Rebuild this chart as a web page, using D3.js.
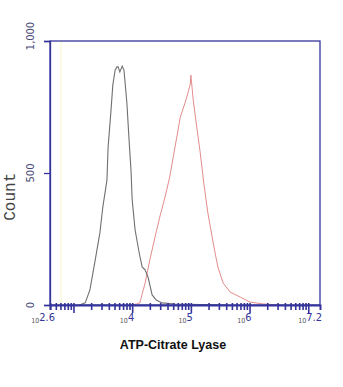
<!DOCTYPE html>
<html lang="en">
<head>
<meta charset="UTF-8">
<title>ATP-Citrate Lyase</title>
<script src="https://cdn.jsdelivr.net/npm/d3@7"></script>
<style>
  html, body { margin: 0; padding: 0; background: #fff; }
  svg { display: block; }
</style>
</head>
<body>
<script>
// y axis
const yTicks = [0, 500, 1000];
const yTickLabels = ["0", "500", "1,000"];

// x axis labels (log10 exponents)
const xLabelExps = [2.6, 4, 5, 6, 7.2];
const xLabelTexts = ["2.6", "4", "5", "6", "7.2"];

// gray histogram (control): log10 intensity, count
const grayLog = [3.10, 3.20, 3.28, 3.37, 3.45, 3.50, 3.57, 3.59, 3.64, 3.67, 3.71, 3.74, 3.76, 3.79, 3.83, 3.86, 3.88, 3.91, 3.95, 3.98, 4.00, 4.05, 4.12, 4.17, 4.22, 4.27, 4.34, 4.41, 4.51, 4.73, 5.60];
const grayCount = [0, 8, 57, 170, 273, 371, 473, 598, 739, 833, 890, 902, 902, 883, 905, 890, 841, 765, 614, 511, 398, 284, 197, 144, 133, 106, 38, 19, 8, 4, 0];

// red histogram (ATP-Citrate Lyase)
const redLog = [3.96, 4.08, 4.13, 4.22, 4.30, 4.39, 4.47, 4.56, 4.64, 4.70, 4.76, 4.82, 4.90, 4.95, 4.99, 5.00, 5.04, 5.10, 5.16, 5.22, 5.29, 5.38, 5.46, 5.55, 5.67, 5.84, 6.01, 6.23, 6.52];
const redCount = [0, 4, 8, 83, 170, 258, 333, 409, 485, 561, 636, 712, 765, 803, 837, 871, 777, 674, 576, 462, 348, 235, 144, 83, 49, 30, 11, 4, 0];

const W = 343, H = 387;
const margin = { top: 41, right: 23, bottom: 82, left: 50 };
const axisColor = "#34349a";

const svg = d3.select("body").append("svg")
  .attr("width", W).attr("height", H)
  .style("background", "#fff");

const x = d3.scaleLog()
  .domain([Math.pow(10, 2.6), Math.pow(10, 7.2)])
  .range([margin.left, W - margin.right]);

const y = d3.scaleLinear()
  .domain([0, 1000])
  .range([H - margin.bottom, margin.top]);

// faint yellow gate line
svg.append("line")
  .attr("x1", 61).attr("x2", 61)
  .attr("y1", y(1000)).attr("y2", y(0))
  .attr("stroke", "#fbf6c8").attr("stroke-width", 1);

// histograms
const line = d3.line()
  .x(d => x(Math.pow(10, d[0])))
  .y(d => y(d[1]));

svg.append("path")
  .datum(redLog.map((e, i) => [e, redCount[i]]))
  .attr("d", line)
  .attr("fill", "none")
  .attr("stroke", "#e58c8c")
  .attr("stroke-width", 1);

svg.append("path")
  .datum(grayLog.map((e, i) => [e, grayCount[i]]))
  .attr("d", line)
  .attr("fill", "none")
  .attr("stroke", "#707070")
  .attr("stroke-width", 1.1);

// frame
svg.append("rect")
  .attr("x", margin.left).attr("y", margin.top)
  .attr("width", W - margin.left - margin.right)
  .attr("height", H - margin.top - margin.bottom)
  .attr("fill", "none")
  .attr("stroke", axisColor)
  .attr("stroke-width", 1.3);

// y axis
const yAxis = svg.append("g")
  .attr("transform", `translate(${margin.left},0)`)
  .call(d3.axisLeft(y).tickValues(yTicks).tickSize(6).tickFormat(""));
yAxis.select(".domain").attr("stroke", axisColor).attr("stroke-width", 1.3);
yAxis.selectAll(".tick line").attr("stroke", axisColor).attr("stroke-width", 1.3);

svg.append("g").selectAll("text")
  .data(yTicks)
  .join("text")
  .attr("transform", (d, i) => `translate(34,${y(d) - (i === 2 ? 5 : 0)}) rotate(-90)`)
  .attr("text-anchor", "middle")
  .attr("font-family", "DejaVu Sans Condensed, DejaVu Sans, sans-serif")
  .attr("font-size", 11)
  .attr("fill", "#4a4a78")
  .text((d, i) => yTickLabels[i]);

svg.append("text")
  .attr("transform", `translate(15,${y(410)}) rotate(-90)`)
  .attr("text-anchor", "middle")
  .attr("font-family", "'Liberation Mono', 'DejaVu Sans Mono', monospace")
  .attr("font-size", 16)
  .attr("fill", "#444")
  .text("Count");

// x axis with log minor ticks
const xAxis = svg.append("g")
  .attr("transform", `translate(0,${H - margin.bottom})`)
  .call(d3.axisBottom(x).tickValues(x.ticks()).tickSize(5).tickFormat(""));
xAxis.select(".domain").attr("stroke", axisColor).attr("stroke-width", 2);
xAxis.selectAll(".tick line")
  .attr("stroke", axisColor)
  .attr("stroke-width", 1.6)
  .attr("y1", -2)
  .attr("y2", d => Math.abs(Math.log10(d) % 1) < 1e-6 ? 8 : 5);

const xl = svg.append("g").selectAll("text")
  .data(xLabelExps)
  .join("text")
  .attr("x", (d, i) => x(Math.pow(10, d)) + (i === 0 ? 5 : 2))
  .attr("y", 323)
  .attr("text-anchor", "end")
  .attr("font-family", "DejaVu Sans Condensed, DejaVu Sans, sans-serif");
xl.append("tspan")
  .attr("font-size", 7)
  .attr("fill", "#555")
  .text("10");
xl.append("tspan")
  .attr("font-size", 11)
  .attr("dy", -2)
  .attr("fill", axisColor)
  .text((d, i) => xLabelTexts[i]);

svg.append("text")
  .attr("x", 173).attr("y", 349)
  .attr("text-anchor", "middle")
  .attr("font-family", "Liberation Sans, Arial, sans-serif")
  .attr("font-weight", "bold")
  .attr("font-size", 12.5)
  .attr("fill", "#111")
  .text("ATP-Citrate Lyase");
</script>
</body>
</html>
